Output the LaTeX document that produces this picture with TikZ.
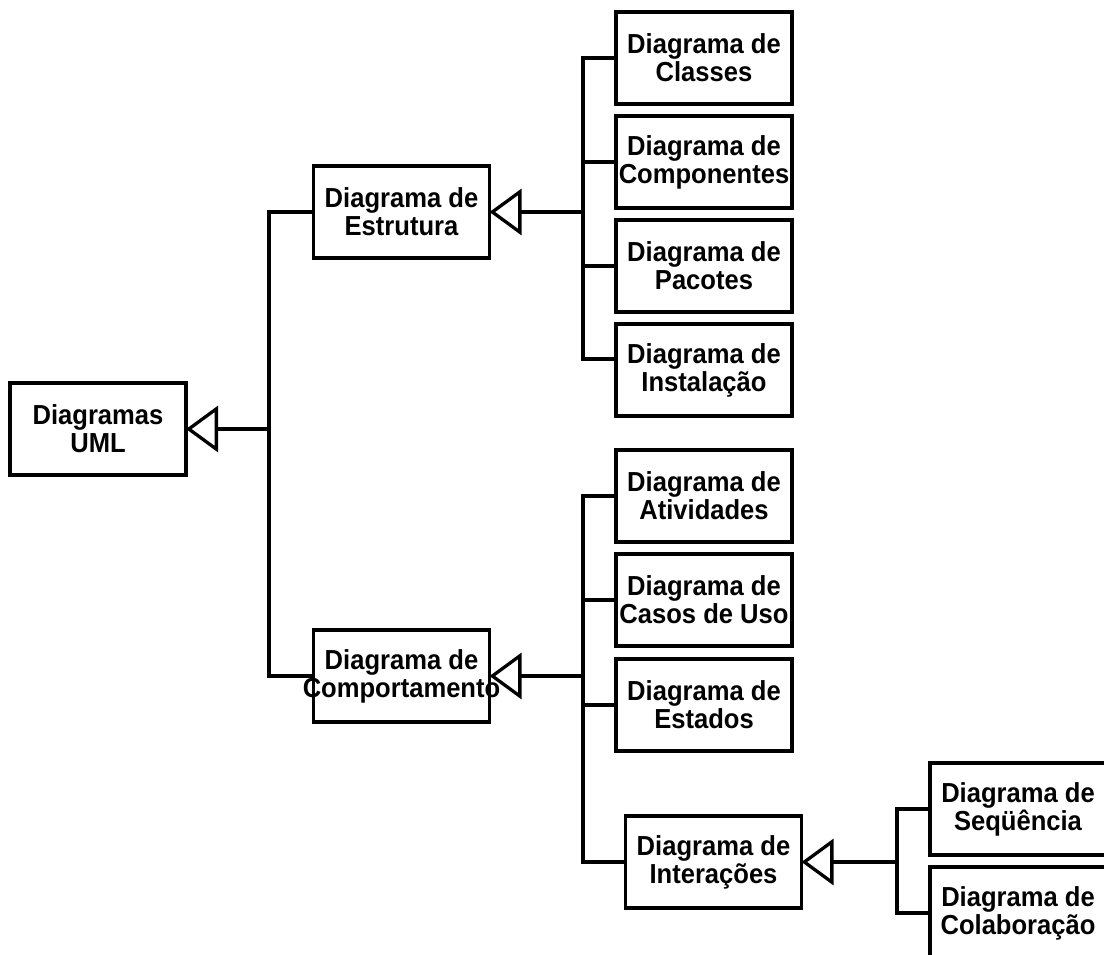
\documentclass[tikz,border=0pt]{standalone}
\usepackage{fontspec}
\setmainfont{Liberation Sans}
\newfontfamily\boxfont[FakeStretch=0.93]{Liberation Sans}
\usetikzlibrary{arrows.meta}

\begin{document}
\begin{tikzpicture}[x=1pt,y=-1pt,
  box/.style={draw, line width=3.3pt, rectangle, inner sep=0pt, outer sep=0pt,
              minimum width=176pt, minimum height=92pt},
  lbl/.style={font=\boxfont\bfseries\fontsize{27.5}{28}\selectfont, align=center, inner sep=0pt},
  wire/.style={line width=3.3pt},
  gen/.style={line width=3.3pt, -{Triangle[open, length=32pt, width=46pt]}}]

\clip (0,0) rectangle (1104,955);

% root and first level
\node[box, label={[lbl]center:{Diagramas\\UML}}] (uml) at (98,429) {};
\node[box, label={[lbl]center:{Diagrama de\\Estrutura}}] (estr) at (401.5,212) {};
\node[box, label={[lbl]center:{Diagrama de\\Comportamento}}] (comp) at (401.5,676) {};

% structure diagrams
\node[box, label={[lbl]center:{Diagrama de\\Classes}}] (classes) at (704,58) {};
\node[box, label={[lbl]center:{Diagrama de\\Componentes}}] (compon) at (704,162) {};
\node[box, label={[lbl]center:{Diagrama de\\Pacotes}}] (pacotes) at (704,266) {};
\node[box, label={[lbl]center:{Diagrama de\\Instalação}}] (instal) at (704,370) {};

% behaviour diagrams
\node[box, label={[lbl]center:{Diagrama de\\Atividades}}] (ativ) at (704,496) {};
\node[box, label={[lbl]center:{Diagrama de\\Casos de Uso}}] (casos) at (704,600) {};
\node[box, label={[lbl]center:{Diagrama de\\Estados}}] (estados) at (704,705) {};
\node[box, label={[lbl]center:{Diagrama de\\Interações}}] (inter) at (713.5,862) {};

% interaction diagrams
\node[box, label={[lbl]center:{Diagrama de\\Seqüência}}] (seq) at (1018,809) {};
\node[box, label={[lbl]center:{Diagrama de\\Colaboração}}] (colab) at (1018,913) {};

% junction points of the generalisation trees
\coordinate (j0) at (269,429);
\coordinate (j1) at (583,212);
\coordinate (j2) at (583,676);
\coordinate (j3) at (897,862);

% Diagramas UML
\draw[gen] (j0) -- (uml.east);
\draw[wire] (estr.west) -| (j0) |- (comp.west);

% Diagrama de Estrutura
\draw[gen] (j1) -- (estr.east);
\draw[wire] (classes.west) -| (j1) |- ([yshift=11pt]instal.west);
\draw[wire] (j1 |- compon.west) -- (compon.west);
\draw[wire] (j1 |- pacotes.west) -- (pacotes.west);

% Diagrama de Comportamento
\draw[gen] (j2) -- (comp.east);
\draw[wire] (ativ.west) -| (j2) |- (inter.west);
\draw[wire] (j2 |- casos.west) -- (casos.west);
\draw[wire] (j2 |- estados.west) -- (estados.west);

% Diagrama de Interações
\draw[gen] (j3) -- (inter.east);
\draw[wire] (seq.west) -| (j3) |- (colab.west);

\end{tikzpicture}
\end{document}
